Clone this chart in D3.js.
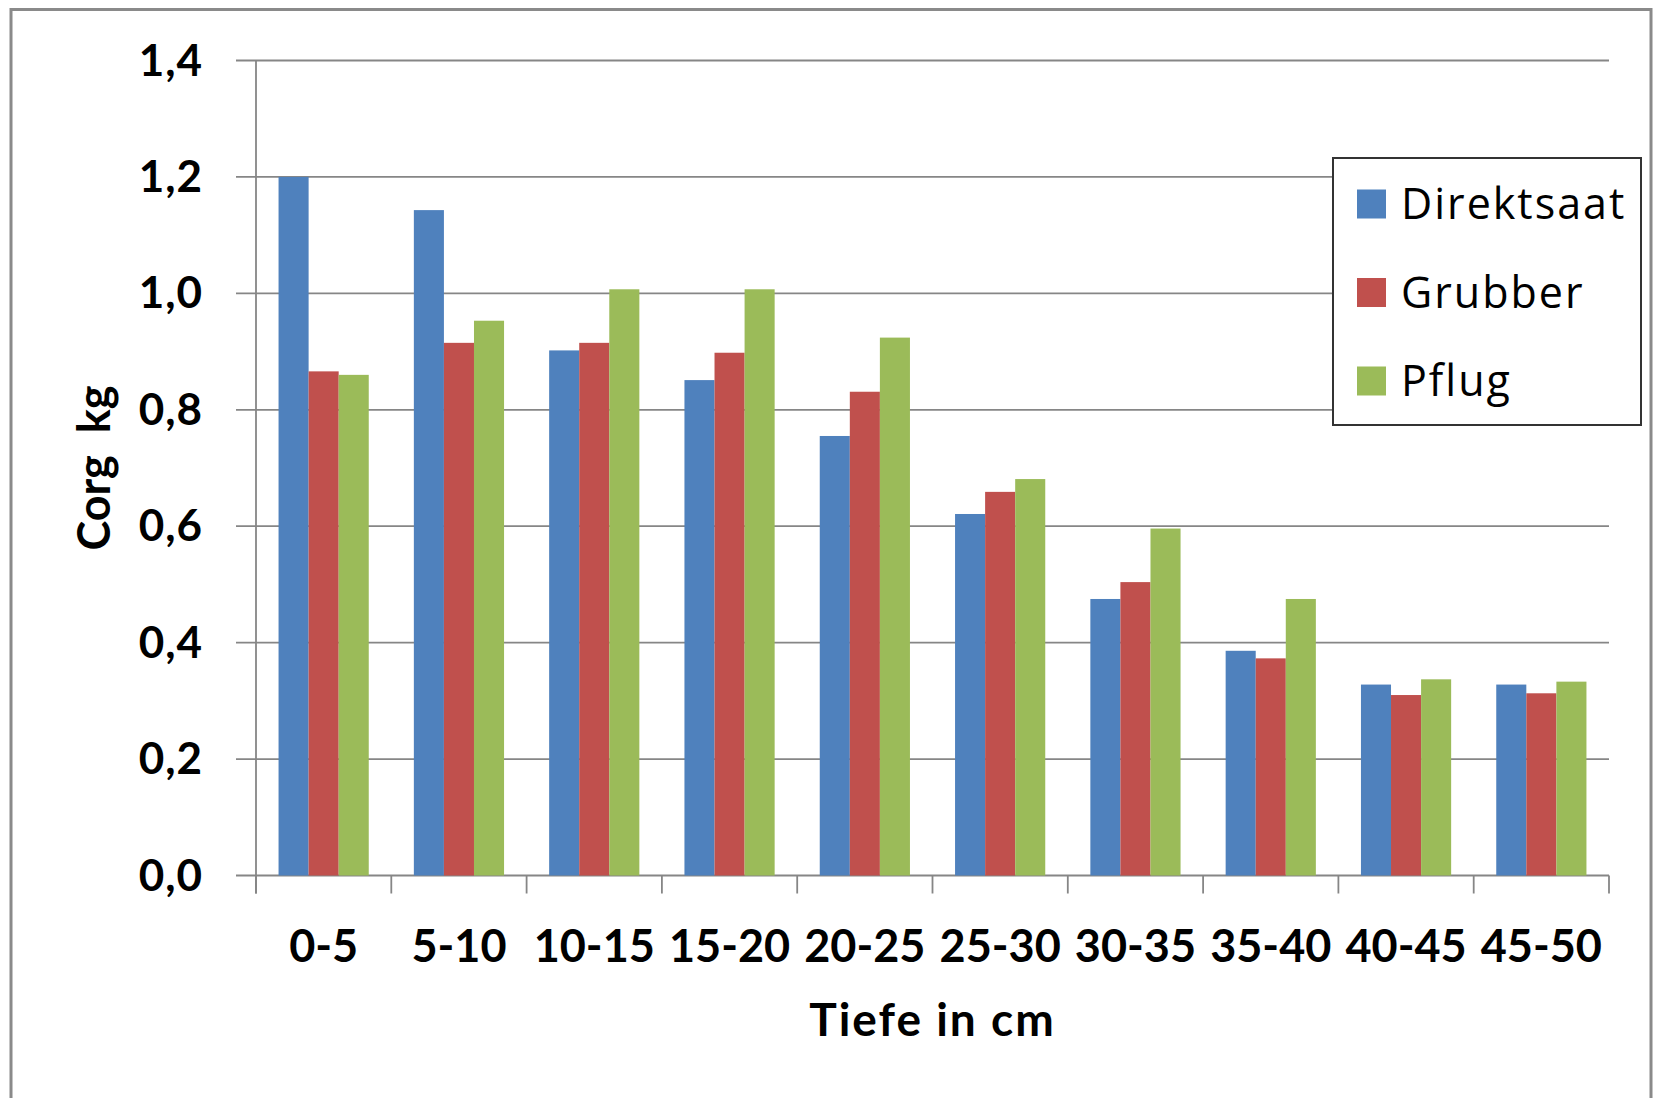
<!DOCTYPE html>
<html>
<head>
<meta charset="utf-8">
<script src="https://cdn.jsdelivr.net/npm/d3@7"></script>
<style>
  html, body { margin: 0; padding: 0; background: #fff; }
  svg { display: block; }
</style>
</head>
<body>
<div id="chart"></div>
<script>
// depth classes (cm)
const categories = ["0-5", "5-10", "10-15", "15-20", "20-25", "25-30", "30-35", "35-40", "40-45", "45-50"];
const seriesNames = ["Direktsaat", "Grubber", "Pflug"];

// Corg kg per depth class
const direktsaat = [1.20, 1.143, 0.902, 0.851, 0.755, 0.621, 0.475, 0.386, 0.328, 0.328];
const grubber    = [0.866, 0.915, 0.915, 0.898, 0.831, 0.659, 0.504, 0.373, 0.310, 0.313];
const pflug      = [0.860, 0.953, 1.007, 1.007, 0.924, 0.681, 0.596, 0.475, 0.337, 0.333];

const yTicks = [0, 0.2, 0.4, 0.6, 0.8, 1.0, 1.2, 1.4];
const colors = ["#4F81BD", "#C0504D", "#9BBB59"];

const width = 1654, height = 1098;
const plot = { left: 256, right: 1609, top: 60.5, bottom: 875.5 };

const svg = d3.select("#chart")
    .append("svg")
    .attr("width", width)
    .attr("height", height);

// outer frame
svg.append("rect")
    .attr("x", 11)
    .attr("y", 9.5)
    .attr("width", 1640)
    .attr("height", 1120)
    .attr("fill", "#fff")
    .attr("stroke", "#8a8a8a")
    .attr("stroke-width", 3);

const x0 = d3.scaleBand()
    .domain(categories)
    .range([plot.left, plot.right])
    .padding(0);

const x1 = d3.scaleBand()
    .domain(seriesNames)
    .range([0, x0.bandwidth()])
    .paddingInner(0)
    .paddingOuter(0.75);

const y = d3.scaleLinear()
    .domain([0, 1.4])
    .range([plot.bottom, plot.top]);

const color = d3.scaleOrdinal().domain(seriesNames).range(colors);

const fmt = v => d3.format(".1f")(v).replace(".", ",");

// gridlines + y ticks
svg.append("g")
    .selectAll("line")
    .data(yTicks)
    .join("line")
    .attr("x1", plot.left - 20)
    .attr("x2", plot.right)
    .attr("y1", d => y(d))
    .attr("y2", d => y(d))
    .attr("stroke", "#868686")
    .attr("stroke-width", 1.8);

// y tick labels
svg.append("g")
    .selectAll("text")
    .data(yTicks)
    .join("text")
    .attr("x", 203)
    .attr("y", d => y(d) + 15)
    .attr("text-anchor", "end")
    .style("font-family", "Lato, sans-serif")
    .style("font-weight", "bold")
    .style("font-size", "44px")
    .style("letter-spacing", "1px")
    .text(fmt);

// bars
const rows = categories.map((c, i) => ({
    category: c,
    values: [direktsaat[i], grubber[i], pflug[i]]
}));

const groups = svg.append("g")
    .selectAll("g")
    .data(rows)
    .join("g")
    .attr("transform", d => `translate(${x0(d.category)},0)`);

groups.selectAll("rect")
    .data(d => seriesNames.map((s, j) => ({ series: s, value: d.values[j] })))
    .join("rect")
    .attr("x", d => x1(d.series))
    .attr("width", x1.bandwidth())
    .attr("y", d => y(d.value))
    .attr("height", d => y(0) - y(d.value))
    .attr("fill", d => color(d.series));

// y axis line
svg.append("line")
    .attr("x1", plot.left)
    .attr("x2", plot.left)
    .attr("y1", plot.top)
    .attr("y2", plot.bottom + 18)
    .attr("stroke", "#868686")
    .attr("stroke-width", 1.8);

// x axis ticks between categories
const xTickPos = categories.map(c => x0(c)).concat([plot.right]);
svg.append("g")
    .selectAll("line")
    .data(xTickPos)
    .join("line")
    .attr("x1", d => d)
    .attr("x2", d => d)
    .attr("y1", plot.bottom)
    .attr("y2", plot.bottom + 18)
    .attr("stroke", "#868686")
    .attr("stroke-width", 1.8);

// x tick labels
svg.append("g")
    .selectAll("text")
    .data(categories)
    .join("text")
    .attr("x", d => x0(d) + x0.bandwidth() / 2)
    .attr("y", 962)
    .attr("text-anchor", "middle")
    .style("font-family", "Lato, sans-serif")
    .style("font-weight", "bold")
    .style("font-size", "45px")
    .text(d => d);

// axis titles
svg.append("text")
    .attr("x", (plot.left + plot.right) / 2)
    .attr("y", 1036)
    .attr("text-anchor", "middle")
    .style("font-family", "Lato, sans-serif")
    .style("font-weight", "bold")
    .style("font-size", "46px")
    .style("letter-spacing", "2px")
    .text("Tiefe in cm");

svg.append("text")
    .attr("transform", `translate(110, ${(plot.top + plot.bottom) / 2}) rotate(-90)`)
    .attr("text-anchor", "middle")
    .style("font-family", "Lato, sans-serif")
    .style("font-weight", "bold")
    .style("font-size", "45px")
    .style("white-space", "pre")
    .text("Corg  kg");

// legend
const legend = svg.append("g");
legend.append("rect")
    .attr("x", 1333)
    .attr("y", 158)
    .attr("width", 308)
    .attr("height", 267)
    .attr("fill", "#fff")
    .attr("stroke", "#333")
    .attr("stroke-width", 2);

const legendItems = legend.selectAll(".legend-item")
    .data(seriesNames)
    .join("g")
    .attr("class", "legend-item")
    .attr("transform", (d, i) => `translate(1357, ${204 + i * 88.5})`);

legendItems.append("rect")
    .attr("x", 0)
    .attr("y", -14.5)
    .attr("width", 29)
    .attr("height", 29)
    .attr("fill", d => color(d));

legendItems.append("text")
    .attr("x", 44)
    .attr("y", 15)
    .style("font-family", "'Open Sans', sans-serif")
    .style("font-size", "43px")
    .style("letter-spacing", "2px")
    .text(d => d);
</script>
</body>
</html>
